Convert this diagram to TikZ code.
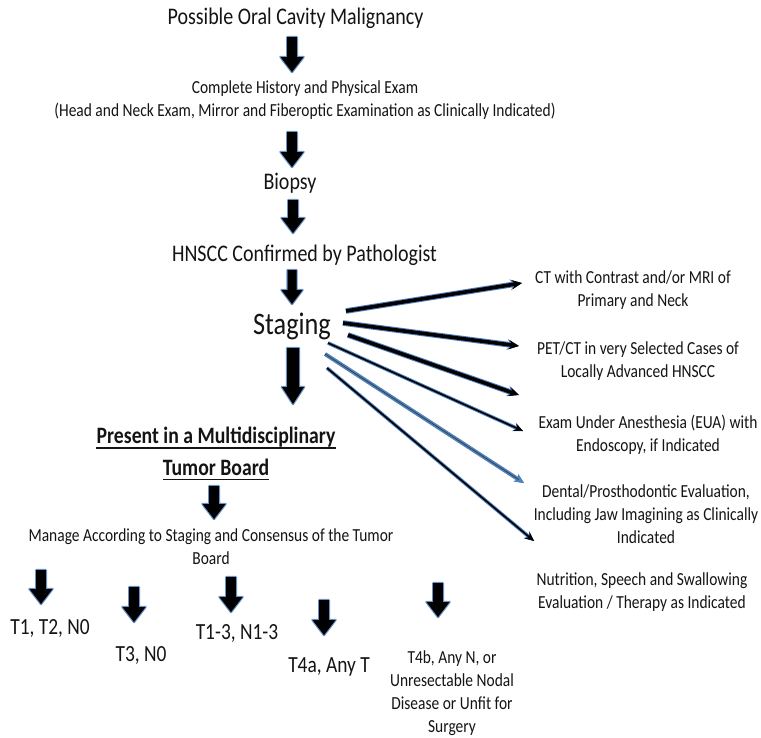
\documentclass[tikz,border=0pt]{standalone}
\usepackage{fontspec}
\setmainfont{Carlito}[FakeStretch=0.84]
\usetikzlibrary{arrows.meta,calc}
\definecolor{glow}{RGB}{79,129,189}
\newcommand\sml{\fontsize{18.4}{23}\selectfont}
\newcommand\lrg{\fontsize{23.8}{28}\selectfont}
\newcommand\blockarr[5]{%
  \path[glowfill] let \p1=(#1), \p2=(#2) in (\x1-#3pt,\y1) -- (\x1+#3pt,\y1) -- (\x1+#3pt,\y2+#5pt) -- (\x1+#4pt,\y2+#5pt) -- (\x1,\y2) -- (\x1-#4pt,\y2+#5pt) -- (\x1-#3pt,\y2+#5pt) -- cycle;
  \path[fill=black] let \p1=(#1), \p2=(#2) in (\x1-#3pt,\y1) -- (\x1+#3pt,\y1) -- (\x1+#3pt,\y2+#5pt) -- (\x1+#4pt,\y2+#5pt) -- (\x1,\y2) -- (\x1-#4pt,\y2+#5pt) -- (\x1-#3pt,\y2+#5pt) -- cycle;
}
\tikzset{
  lbl/.style={inner sep=0pt, align=center, text=black!92},
  uline/.style={line width=1.2pt, black!92},
  glowfill/.style={fill=glow, draw=glow, line width=2.4pt, line join=round, opacity=0.85},
  fanthick/.style={line width=3.6pt, black, -{Stealth[length=10pt,width=9pt,line width=0.8pt]},
    preaction={draw=glow, line width=5.6pt, -{Stealth[length=12pt,width=11pt,line width=0.8pt]}}},
  fanthin/.style={line width=1.6pt, black, -{Stealth[length=9pt,width=8pt,line width=0.6pt]},
    preaction={draw=glow, line width=3.6pt, -{Stealth[length=10pt,width=9pt,line width=0.6pt]}}},
  fanblue/.style={line width=0.6pt, black!80, -{Stealth[length=9pt,width=8pt,line width=0.6pt,glow]},
    preaction={draw=glow, line width=4pt, -{Stealth[length=10pt,width=9pt,line width=0.6pt]}}},
}
\begin{document}
\begin{tikzpicture}[x=1pt,y=-1pt]
\useasboundingbox[fill=white] (0,0) rectangle (761,737);

% main column
\node[lbl,font=\lrg] (title) at (295.5,18) {Possible Oral Cavity Malignancy};
\node[lbl,font=\sml] (hist) at (305,100.5) {Complete History and Physical Exam\\(Head and Neck Exam, Mirror and Fiberoptic Examination as Clinically Indicated)};
\node[lbl,font=\lrg] (biopsy) at (290,183) {Biopsy};
\node[lbl,font=\lrg] (hnscc) at (304.5,255) {HNSCC Confirmed by Pathologist};
\node[lbl,font=\fontsize{31.3}{36}\selectfont] (staging) at (292,326) {Staging};
\node[lbl,font=\fontsize{23.5}{30}\selectfont\bfseries] (present1) at (216,437) {Present in a Multidisciplinary};
\node[lbl,font=\fontsize{23.5}{30}\selectfont\bfseries] (present2) at (216,467) {Tumor Board};
\draw[uline] ($(present1.base west)+(0,4.5)$) -- ($(present1.base east)+(0,4.5)$);
\draw[uline] ($(present2.base west)+(0,4.5)$) -- ($(present2.base east)+(0,4.5)$);
\node[lbl,font=\sml] (manage) at (211,546.5) {Manage According to Staging and Consensus of the Tumor\\Board};

% T categories
\node[lbl,font=\fontsize{23.1}{28}\selectfont] (t12) at (50,628) {T1, T2, N0};
\node[lbl,font=\fontsize{23.1}{28}\selectfont] (t3) at (141,655) {T3, N0};
\node[lbl,font=\fontsize{23.1}{28}\selectfont] (t13) at (237,633) {T1-3, N1-3};
\node[lbl,font=\fontsize{23.1}{28}\selectfont] (t4a) at (329,667) {T4a, Any T};
\node[lbl,font=\fontsize{18.4}{23.2}\selectfont] (t4b) at (452,693) {T4b, Any N, or\\Unresectable Nodal\\Disease or Unfit for\\Surgery};

% right column
\node[lbl,font=\sml] (ct) at (633,290) {CT with Contrast and/or MRI of\\Primary and Neck};
\node[lbl,font=\sml] (pet) at (638,361.5) {PET/CT in very Selected Cases of\\Locally Advanced HNSCC};
\node[lbl,font=\sml] (eua) at (648,435) {Exam Under Anesthesia (EUA) with\\Endoscopy, if Indicated};
\node[lbl,font=\sml] (dental) at (646,514) {Dental/Prosthodontic Evaluation,\\Including Jaw Imagining as Clinically\\Indicated};
\node[lbl,font=\sml] (nutr) at (642,592.5) {Nutrition, Speech and Swallowing\\Evaluation / Therapy as Indicated};

% block arrow end points
\coordinate (a1t) at (292,37);  \coordinate (a1b) at (292,72);
\coordinate (a2t) at (292,132); \coordinate (a2b) at (292,167);
\coordinate (a3t) at (293,200); \coordinate (a3b) at (293,233);
\coordinate (a4t) at (292,270); \coordinate (a4b) at (292,304);
\coordinate (a5t) at (293,348); \coordinate (a5b) at (293,404);
\coordinate (a6t) at (214,486); \coordinate (a6b) at (214,519);
\coordinate (bat) at (41,570);  \coordinate (bab) at (41,604);
\coordinate (bbt) at (134,587); \coordinate (bbb) at (134,622);
\coordinate (bct) at (231,577); \coordinate (bcb) at (231,612);
\coordinate (bdt) at (324,600); \coordinate (bdb) at (324,635);
\coordinate (bet) at (438,583); \coordinate (beb) at (438,617);

\blockarr{a1t}{a1b}{4.8}{11.5}{15}
\blockarr{a2t}{a2b}{4.8}{11.5}{15}
\blockarr{a3t}{a3b}{4.8}{11.5}{15}
\blockarr{a4t}{a4b}{4.5}{10.5}{14}
\blockarr{a5t}{a5b}{6}{11}{17}
\blockarr{a6t}{a6b}{4.8}{11.5}{15}
\blockarr{bat}{bab}{4.8}{11.5}{15}
\blockarr{bbt}{bbb}{4.8}{11.5}{15}
\blockarr{bct}{bcb}{4.8}{11.5}{15}
\blockarr{bdt}{bdb}{4.8}{11.5}{15}
\blockarr{bet}{beb}{4.8}{11.5}{15}

% fan from Staging
\coordinate (s1) at (346,311); \coordinate (e1) at (522,283);
\coordinate (s2) at (343,323); \coordinate (e2) at (519,346);
\coordinate (s3) at (348,335); \coordinate (e3) at (519,395);
\coordinate (s4) at (328,343); \coordinate (e4) at (523,431);
\coordinate (s5) at (325,354); \coordinate (e5) at (524,483);
\coordinate (s6) at (327,368); \coordinate (e6) at (534,541);
\draw[fanthick] (s1) -- (e1);
\draw[fanthick] (s2) -- (e2);
\draw[fanthick] (s3) -- (e3);
\draw[fanthin] (s4) -- (e4);
\draw[fanblue] (s5) -- (e5);
\draw[fanthin] (s6) -- (e6);
\end{tikzpicture}
\end{document}
